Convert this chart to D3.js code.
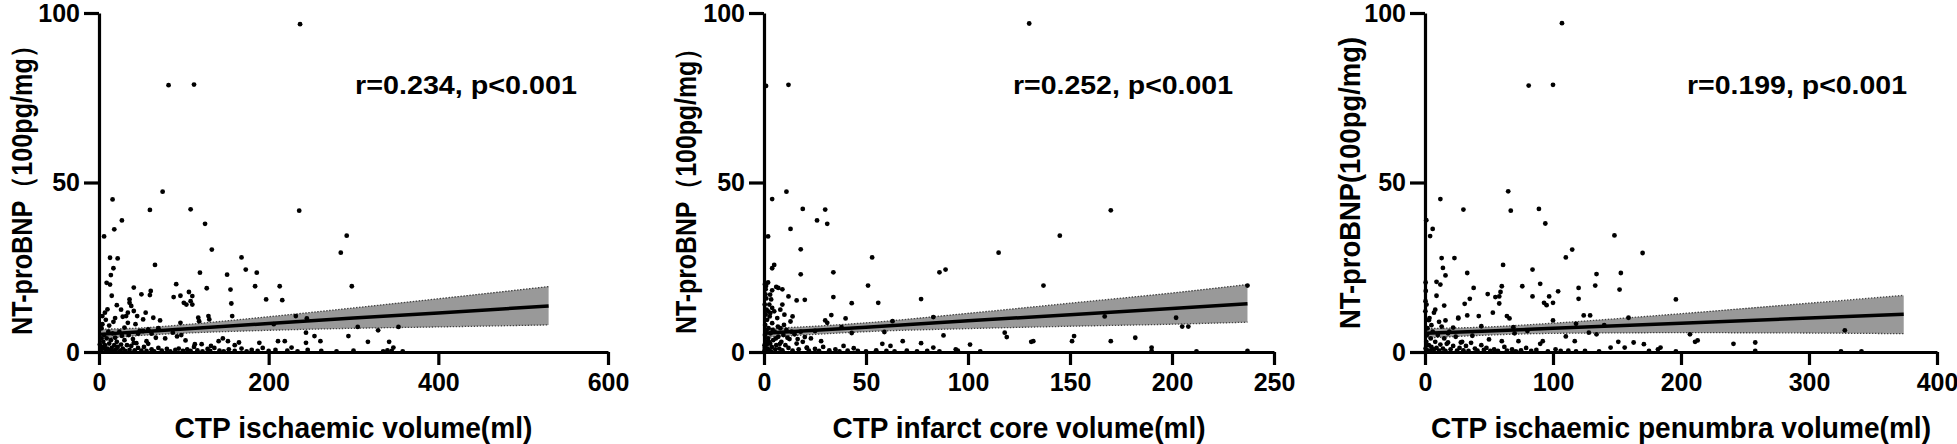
<!DOCTYPE html>
<html>
<head>
<meta charset="utf-8">
<script src="https://cdn.jsdelivr.net/npm/d3@7"></script>
<style>
html,body{margin:0;padding:0;background:#fff;}
svg{display:block;}
text{font-family:"Liberation Sans",Arial,sans-serif;font-weight:bold;fill:#000;}
</style>
</head>
<body>
<svg id="chart" width="1957" height="444"></svg>
<script>
// ---------------- DATA ----------------
const yTicks = [0, 50, 100];
const xTicks1 = [0, 200, 400, 600];
const xTicks2 = [0, 50, 100, 150, 200, 250];
const xTicks3 = [0, 100, 200, 300, 400];
const xTitles = ["CTP ischaemic volume(ml)", "CTP infarct core volume(ml)", "CTP ischaemic penumbra volume(ml)"];
const yTitles = ["NT-proBNP（100pg/mg）", "NT-proBNP（100pg/mg）", "NT-proBNP(100pg/mg)"];
const statLabels = ["r=0.234, p<0.001", "r=0.252, p<0.001", "r=0.199, p<0.001"];

// scatter points [volume, NT-proBNP]
const points1 = [
[237,96.7],[82,78.7],[112,78.9],[75,47.3],[16,45.0],[60,41.9],[108,42.1],[236,41.7],[27,38.8],[18,36.2],
[125,37.8],[6,34.1],[292,34.3],[133,30.2],[285,29.3],[13,27.8],[22,27.6],[66,25.7],[168,27.9],[17,24.7],
[173,24.3],[186,23.4],[119,23.4],[151,22.8],[14,22.7],[9,20.4],[13,19.9],[91,20.0],[41,19.0],[127,18.8],
[155,18.4],[184,19.4],[213,19.4],[298,19.4],[50,17.0],[61,18.0],[60,16.8],[88,16.2],[96,16.6],[106,17.7],
[110,16.5],[15,16.6],[197,15.5],[216,15.3],[36,15.5],[36,14.5],[21,13.8],[100,14.5],[103,14.0],[108,15.0],
[110,14.0],[156,14.3],[10,12.6],[7,11.6],[38,13.6],[41,12.1],[55,11.6],[45,10.6],[28,10.4],[32,10.6],
[64,10.1],[72,9.3],[117,10.1],[129,10.6],[157,10.6],[232,10.6],[245,9.9],[4,10.6],[4,8.2],[17,8.9],
[34,8.6],[43,8.2],[96,8.6],[118,9.1],[130,9.6],[206,8.2],[305,7.4],[353,7.4],[329,6.4],[58,6.7],
[52,6.2],[87,5.7],[97,5.0],[244,5.7],[294,4.7],[254,4.7],[261,3.2],[317,3.0],[342,3.0],[347,1.3],
[244,2.7],[211,3.2],[219,3.2],[227,1.3],[189,2.7],[165,2.8],[152,3.2],[141,3.2],[121,2.3],[113,2.3],
[78,4.0],[67,4.2],[56,3.2],[41,2.7],[146,4.0],[160,2.0],[132,1.8],[102,3.4],[92,4.6],[62,5.4],
[2,0.5],[4,1.5],[5,3],[6,5],[7,2],[8,0.3],[9,4],[10,1],[11,6],[12,2.5],[13,0.5],[14,3.5],[15,1.2],
[16,5.5],[17,0.2],[18,2],[19,4.2],[20,0.8],[21,3],[22,1.5],[24,6],[25,0.4],[26,2.2],[27,4.8],[28,1],
[30,3.5],[31,0.3],[33,2],[35,5],[36,0.6],[38,1.8],[40,3.8],[42,0.5],[44,2.6],[46,1.2],[48,6.2],[50,0.4],
[53,1.5],[56,0.3],[58,2.4],[62,0.8],[65,0.2],[70,1.2],[74,0.4],[80,0.9],[84,0.2],[90,0.6],[94,1.0],
[99,0.3],[104,0.8],[108,0.3],[112,1.5],[116,0.5],[122,0.2],[128,0.9],[131,0.3],[136,1.2],[142,0.4],
[147,0.2],[153,0.8],[160,0.3],[168,1.0],[174,0.2],[180,0.6],[187,0.3],[193,1.2],[200,0.3],[208,0.6],
[222,0.4],[234,0.2],[246,0.6],[262,0.3],[280,0.2],[300,0.4],[335,0.2],[340,0.5],[345,0.3],[358,0.2],
[3,7],[8,9.5],[12,7.8],[19,10],[26,12.5],[30,7.2],[34,11.6],[46,5.4],[52,9.6],[70,7],[3,4],[6,1],[1,2.2]
];

const points2 = [
[130,96.9],[1,78.5],[12,78.8],[11,47.3],[4,45.1],[19,42.2],[30,42.0],[170,41.8],[26,38.8],[31,37.8],
[13,36.3],[2,34.1],[145,34.3],[18,30.3],[115,29.3],[53,27.9],[5,25.7],[4,24.7],[34,23.5],[18,22.9],
[89,24.3],[86,23.5],[51,19.6],[137,19.6],[237,19.6],[34,16.2],[20,15.4],[77,15.6],[16,15.2],[56,14.5],
[43,14.4],[12,16.4],[7,18.9],[4,18.2],[3,16.9],[9,14.0],[4,13.0],[33,10.9],[40,9.9],[30,9.3],
[31,8.6],[63,9.1],[83,10.3],[167,10.5],[202,10.1],[205,7.5],[208,7.5],[38,7.3],[43,5.6],[59,5.9],
[88,4.9],[118,5.7],[119,4.4],[152,4.7],[151,3.2],[131,3.0],[132,3.2],[170,3.2],[182,4.2],[101,2.2],
[77,2.6],[68,3.2],[58,2.4],[39,1.8],[28,3.2],[20,4.4],[21,1.3],[190,1.3],[94,0.8],[44,1.1],
[62,1.8],[83,1.3],[1,19.5],[2,20.5],[6,19.2],[9,18.5],[2,12],[8,12.5],[14,10.5],[25,6.2],
[0.3,2],[0.5,5],[0.6,8],[0.8,11],[0.4,14],[0.7,17],[0.5,20],[1,3],[1.2,6.5],[1.5,9.5],[1.3,12.5],
[1.8,1],[2,4],[2.2,7],[2.5,0.5],[2.8,10.5],[3,2.5],[3.2,5.5],[3.5,15.5],[3.8,1.5],[4,8.5],[4.5,3.5],
[5,12],[5.2,6],[5.5,0.8],[6,2],[6.5,10],[7,4.5],[7.5,1],[8,7],[8.5,3],[9,0.5],[9.5,5],[10,11],
[10.5,2],[11,6.5],[12,1.2],[12.5,3.8],[13,9],[14,0.4],[15,5.2],[16,2.5],[17,0.8],[18,6],[19,3],
[21,1.2],[22,0.4],[23,4],[25,0.9],[27,0.3],[29,1.5],[32,0.5],[35,0.8],[37,0.2],[41,0.4],[46,0.3],
[50,0.2],[55,0.5],[60,0.3],[64,0.2],[70,0.4],[75,0.2],[80,0.3],[86,0.2],[95,0.4],[106,0.2],[190,0.3],
[212,0.2],[237,0.3],[0.2,0.3],[0.4,1.2],[0.9,0.4],[1.4,2.2],[2.4,3],[3.4,0.2],[4.2,6.5],[5.8,4],
[6.8,7.5],[7.8,2.4],[1.1,15.8],[0.8,18.5],[2.6,14],[3.1,11.5],[9.8,8],[11.5,4.2],[13.5,6],[16.5,3.8]
];

const points3 = [
[107,97.0],[81,78.6],[100,78.8],[65,47.4],[12,45.1],[30,42.0],[89,42.2],[67,41.7],[94,37.9],[1,38.9],
[6,36.3],[4,34.2],[148,34.4],[115,30.2],[170,29.2],[110,27.9],[13,27.7],[23,27.7],[61,25.7],[14,24.8],
[84,24.3],[33,23.3],[16,22.6],[134,23.0],[153,23.3],[9,20.7],[12,19.9],[76,19.4],[90,20.1],[133,19.6],
[120,18.9],[60,19.4],[38,18.9],[152,18.4],[9,16.6],[49,17.1],[55,16.2],[59,17.7],[58,16.4],[84,16.4],
[97,16.4],[104,17.9],[120,15.7],[196,15.5],[35,15.7],[31,14.2],[15,13.7],[58,14.3],[93,14.5],[95,13.8],
[100,14.5],[8,12.5],[7,11.6],[53,11.6],[42,10.6],[33,10.8],[26,10.1],[26,9.9],[16,9.3],[11,8.9],
[5,7.9],[64,10.6],[66,9.9],[69,7.3],[100,9.3],[118,8.3],[124,10.8],[129,10.8],[159,10.1],[140,7.9],
[128,5.7],[134,5.2],[207,5.2],[213,3.4],[211,3.0],[241,2.4],[258,2.8],[328,6.4],[171,2.3],[163,2.8],
[151,3.0],[145,1.3],[156,1.3],[184,1.3],[117,3.2],[92,3.2],[90,2.4],[73,3.2],[60,3.2],[50,3.7],
[36,2.7],[28,2.8],[17,2.4],[22,7.2],[44,7.6],[70,5.5],[80,6.2],[110,4.6],[18,5.5],[3,9.4],
[0.5,1],[1,3],[1.5,5],[2,0.5],[2,7],[3,2],[3.5,10],[4,0.3],[4.5,4],[5,1.5],[6,6],[7,0.8],[8,3],
[9,1.2],[10,5],[11,0.4],[12,2.2],[13,7.5],[14,1],[15,4],[16,0.3],[18,2.8],[19,6],[20,0.8],[22,1.8],
[24,4.5],[25,0.4],[27,1.2],[29,3],[30,0.5],[32,1.8],[34,0.3],[37,4.8],[39,1],[41,0.4],[44,2],[46,0.6],
[48,1.2],[51,0.3],[54,0.8],[57,0.3],[62,1.5],[64,0.4],[68,0.8],[71,0.2],[75,0.5],[79,1.2],[83,0.3],
[87,0.6],[96,0.2],[102,0.8],[106,0.3],[112,0.4],[118,0.2],[125,0.3],[136,0.2],[175,0.3],[182,0.8],
[196,0.2],[258,0.3],[325,0.2],[341,0.2],[0.3,12],[0.4,15],[0.6,18],[0.5,20.5],[1.2,14]
];

// regression line and 95% CI band, read at a few volumes
const fitX1 = [0, 50, 100, 200, 300, 400, 530];
const fitY1 = [5.2, 6.0, 6.8, 8.4, 10.0, 11.5, 13.6];
const fitLo1 = [3.8, 4.9, 5.55, 6.4, 7.0, 7.4, 8.0];
const fitHi1 = [6.7, 7.1, 8.05, 10.4, 13.0, 15.7, 19.3];

const fitX2 = [0, 25, 50, 100, 150, 200, 237];
const fitY2 = [5.5, 6.4, 7.3, 9.2, 11.0, 12.8, 14.2];
const fitLo2 = [4.3, 5.2, 6.0, 6.9, 7.6, 8.2, 8.8];
const fitHi2 = [6.9, 7.6, 8.6, 11.4, 14.4, 17.4, 19.9];

const fitX3 = [0, 50, 100, 200, 300, 374];
const fitY3 = [5.5, 6.2, 7.0, 8.5, 10.0, 11.1];
const fitLo3 = [4.1, 5.0, 5.5, 5.7, 5.6, 5.4];
const fitHi3 = [6.9, 7.4, 8.5, 11.3, 14.4, 16.7];

// ---------------- DRAW ----------------
const svg = d3.select("#chart");
const yTop = 13, yBottom = 352;

const panels = [
  {x0: 99,  x1: 608,  xMax: 600, xTicks: xTicks1, pts: points1, fx: fitX1, fy: fitY1, lo: fitLo1, hi: fitHi1,
   yTitleX: 32, yTitleLen: 302, yTitleC: 184, xTitleLen: 358, statX: 355, statLen: 222},
  {x0: 764, x1: 1274, xMax: 250, xTicks: xTicks2, pts: points2, fx: fitX2, fy: fitY2, lo: fitLo2, hi: fitHi2,
   yTitleX: 696, yTitleLen: 298, yTitleC: 185, xTitleLen: 373, statX: 1013, statLen: 220},
  {x0: 1425, x1: 1937, xMax: 400, xTicks: xTicks3, pts: points3, fx: fitX3, fy: fitY3, lo: fitLo3, hi: fitHi3,
   yTitleX: 1360, yTitleLen: 292, yTitleC: 183, xTitleLen: 500, statX: 1687, statLen: 220}
];

panels.forEach((p, i) => {
  const x = d3.scaleLinear().domain([0, p.xMax]).range([p.x0, p.x1]);
  const y = d3.scaleLinear().domain([0, 100]).range([yBottom, yTop]);
  const g = svg.append("g");

  // CI band
  const band = p.fx.map((v, k) => ({x: v, lo: p.lo[k], hi: p.hi[k], m: p.fy[k]}));
  g.append("path").datum(band)
    .attr("d", d3.area().x(d => x(d.x)).y0(d => y(d.lo)).y1(d => y(d.hi)).curve(d3.curveMonotoneX))
    .attr("fill", "#999999");
  ["lo", "hi"].forEach(key => {
    g.append("path").datum(band)
      .attr("d", d3.line().x(d => x(d.x)).y(d => y(d[key])).curve(d3.curveMonotoneX))
      .attr("fill", "none").attr("stroke", "#444").attr("stroke-width", 1.3)
      .attr("stroke-dasharray", "1.5,1.5");
  });

  // points
  g.append("g").selectAll("circle").data(p.pts).join("circle")
    .attr("cx", d => x(d[0])).attr("cy", d => y(d[1])).attr("r", 2.4).attr("fill", "#000");

  // fit line
  g.append("path").datum(band)
    .attr("d", d3.line().x(d => x(d.x)).y(d => y(d.m)))
    .attr("fill", "none").attr("stroke", "#000").attr("stroke-width", 3.5);

  // axes
  const xa = g.append("g").attr("transform", `translate(0,${yBottom})`)
    .call(d3.axisBottom(x).tickValues(p.xTicks).tickSize(13).tickSizeOuter(0).tickPadding(6));
  const ya = g.append("g").attr("transform", `translate(${p.x0},0)`)
    .call(d3.axisLeft(y).tickValues(yTicks).tickSize(15).tickSizeOuter(0).tickPadding(4));
  [xa, ya].forEach(a => {
    a.select(".domain").attr("stroke", "#000").attr("stroke-width", 3.2);
    a.selectAll(".tick line").attr("stroke", "#000").attr("stroke-width", 3.2);
    a.selectAll(".tick text").attr("font-size", 25).attr("font-family", "Liberation Sans, Arial, sans-serif")
      .attr("font-weight", "bold").attr("fill", "#000");
  });
  xa.selectAll(".tick text").attr("dy", "0.78em");

  // axis titles
  g.append("text")
    .attr("x", (p.x0 + p.x1) / 2).attr("y", 438)
    .attr("text-anchor", "middle").attr("font-size", 30)
    .attr("textLength", p.xTitleLen).attr("lengthAdjust", "spacingAndGlyphs")
    .text(xTitles[i]);
  g.append("text")
    .attr("transform", `translate(${p.yTitleX},${p.yTitleC}) rotate(-90)`)
    .attr("text-anchor", "middle").attr("font-size", 29)
    .attr("textLength", p.yTitleLen).attr("lengthAdjust", "spacingAndGlyphs")
    .text(yTitles[i]);

  // stat label
  g.append("text")
    .attr("x", p.statX).attr("y", 94).attr("font-size", 26)
    .attr("textLength", p.statLen).attr("lengthAdjust", "spacingAndGlyphs")
    .text(statLabels[i]);
});
</script>
</body>
</html>
